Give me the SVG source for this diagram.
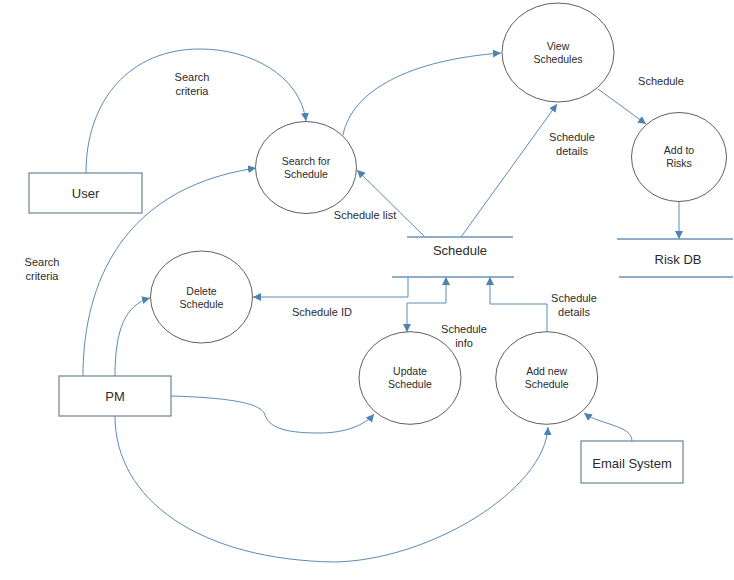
<svg xmlns="http://www.w3.org/2000/svg" width="734" height="580" viewBox="0 0 734 580">
<style>
  .bg{fill:#ffffff}
  .proc{fill:#ffffff;stroke:#5f5f5f;stroke-width:1}
  .ent{fill:#ffffff;stroke:#6a8494;stroke-width:1.2}
  .store{stroke:#6b93b8;stroke-width:1.4}
  .conn{fill:none;stroke:#5b8bb8;stroke-width:1}
  .arr{marker-end:url(#ah)}
  .t{font-family:"Liberation Sans",Arial,sans-serif;fill:#2b2b2b;text-anchor:middle}
  .small{font-size:10.5px}
  .lbl{font-size:11px}
  .big{font-size:13px}
</style>
<defs>
  <marker id="ah" viewBox="0 0 10 10" refX="10" refY="5" markerWidth="8" markerHeight="8" markerUnits="userSpaceOnUse" orient="auto-start-reverse">
    <path d="M0,0 L10,5 L0,10 Z" fill="#4f82b3"/>
  </marker>
</defs>
<rect class="bg" x="0" y="0" width="734" height="580"/>

<g id="connectors">
  <path class="conn arr" d="M86,173 C86,100 130,49 200,49 C250,49 300,75 306,121"/>
  <path class="conn arr" d="M83,376 C83,300 110,190 256,168"/>
  <path class="conn arr" d="M115,376 C115,330 125,305 150,298"/>
  <path class="conn arr" d="M171,396 C240,398 262,405 265,415 C270,432 300,433 320,433 C345,433 365,425 374,414"/>
  <path class="conn arr" d="M115,416 C115,500 200,560 335,562 C430,560 545,490 548,427"/>
  <path class="conn arr" d="M343,135 C352,90 410,60 501,53"/>
  <path class="conn arr" d="M425,237 L357,170"/>
  <path class="conn arr" d="M461,237 L557,104"/>
  <path class="conn arr" d="M598,89 L646,124"/>
  <path class="conn arr" d="M679,202 L679,239"/>
  <path class="conn arr" d="M408,277 L408,297 L253,297"/>
  <path class="conn arr" style="marker-start:url(#ah)" d="M407,332 L407,303 L446,303 L446,277"/>
  <path class="conn arr" d="M547,332 L547,304 L490,304 L490,277"/>
  <path class="conn arr" d="M632,441 C632,425 600,425 584,413"/>
</g>

<g id="labels">
  <text class="t lbl" x="192" y="80.7">Search</text>
  <text class="t lbl" x="192" y="94.7">criteria</text>
  <text class="t lbl" x="42" y="266">Search</text>
  <text class="t lbl" x="42" y="280">criteria</text>
  <text class="t lbl" x="365" y="219">Schedule list</text>
  <text class="t lbl" x="322" y="315.5">Schedule ID</text>
  <text class="t lbl" x="464" y="333">Schedule</text>
  <text class="t lbl" x="464" y="347">info</text>
  <text class="t lbl" x="574" y="301.7">Schedule</text>
  <text class="t lbl" x="574" y="315.7">details</text>
  <text class="t lbl" x="572" y="140.7">Schedule</text>
  <text class="t lbl" x="572" y="154.7">details</text>
  <text class="t lbl" x="661" y="85">Schedule</text>
</g>

<g id="user">
  <rect class="ent" x="29" y="173" width="113" height="40"/>
  <text class="t big" x="85.5" y="197.7">User</text>
</g>
<g id="pm">
  <rect class="ent" x="59" y="376" width="112" height="40"/>
  <text class="t big" x="115" y="400.7">PM</text>
</g>
<g id="email-system">
  <rect class="ent" x="581" y="441" width="102" height="42"/>
  <text class="t big" x="632" y="467.7">Email System</text>
</g>

<g id="search-for-schedule">
  <ellipse class="proc" cx="306" cy="167.5" rx="50.5" ry="46"/>
  <text class="t small" x="306" y="164.5">Search for</text>
  <text class="t small" x="306" y="177.8">Schedule</text>
</g>
<g id="view-schedules">
  <ellipse class="proc" cx="558" cy="52.5" rx="56" ry="49.5"/>
  <text class="t small" x="558" y="49.5">View</text>
  <text class="t small" x="558" y="62.8">Schedules</text>
</g>
<g id="add-to-risks">
  <ellipse class="proc" cx="679" cy="157" rx="47.5" ry="44.5"/>
  <text class="t small" x="679" y="153.8">Add to</text>
  <text class="t small" x="679" y="167">Risks</text>
</g>
<g id="delete-schedule">
  <ellipse class="proc" cx="201.5" cy="297" rx="51" ry="46"/>
  <text class="t small" x="201.5" y="294.5">Delete</text>
  <text class="t small" x="201.5" y="307.8">Schedule</text>
</g>
<g id="update-schedule">
  <ellipse class="proc" cx="410" cy="378" rx="51" ry="46.3"/>
  <text class="t small" x="410" y="374.8">Update</text>
  <text class="t small" x="410" y="388">Schedule</text>
</g>
<g id="add-new-schedule">
  <ellipse class="proc" cx="546.7" cy="378" rx="51" ry="46.3"/>
  <text class="t small" x="546.7" y="374.8">Add new</text>
  <text class="t small" x="546.7" y="388">Schedule</text>
</g>

<g id="schedule-store">
  <line class="store" x1="407" y1="237" x2="513" y2="237"/>
  <line class="store" x1="392" y1="277" x2="514" y2="277"/>
  <text class="t big" x="460" y="254.7">Schedule</text>
</g>
<g id="risk-db">
  <line class="store" x1="617" y1="239" x2="733" y2="239"/>
  <line class="store" x1="619" y1="277" x2="733" y2="277"/>
  <text class="t big" x="678" y="263.7">Risk DB</text>
</g>
</svg>
